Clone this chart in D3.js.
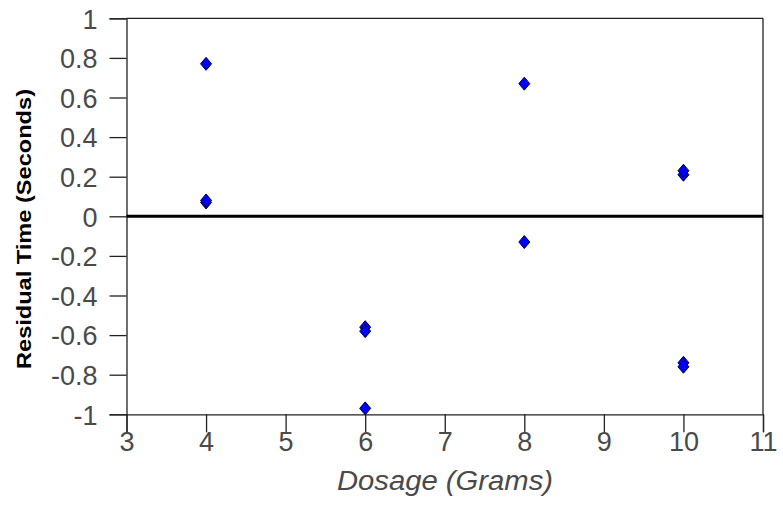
<!DOCTYPE html>
<html>
<head>
<meta charset="utf-8">
<script src="https://cdn.jsdelivr.net/npm/d3@7"></script>
<style>
  html, body { margin: 0; padding: 0; background: #fff; }
  svg { display: block; }
  text { font-family: "Liberation Sans", Arial, sans-serif; }
</style>
</head>
<body>
<svg id="chart" width="783" height="518"></svg>
<script>
const dosage   = [4, 4, 4, 6, 6, 6, 8, 8, 10, 10, 10, 10];
const residual = [0.77, 0.07, 0.08, -0.56, -0.58, -0.97, 0.67, -0.13, 0.21, 0.23, -0.74, -0.76];
const xTicks = [3, 4, 5, 6, 7, 8, 9, 10, 11];
const yTicks = [1, 0.8, 0.6, 0.4, 0.2, 0, -0.2, -0.4, -0.6, -0.8, -1];
const xTitle = "Dosage (Grams)";
const yTitle = "Residual Time (Seconds)";

const svg = d3.select("#chart");
const L = 126.5, R = 763, T = 18.3, B = 414.3;

const x = d3.scaleLinear().domain([3, 11]).range([L, R]);
const y = d3.scaleLinear().domain([-1, 1]).range([B, T]);

const fmt = d => String(+d.toFixed(1));

// y axis
const yAxis = svg.append("g").attr("transform", `translate(${L},0)`)
  .call(d3.axisLeft(y).tickValues(yTicks).tickSize(17).tickPadding(12).tickFormat(fmt));
// x axis
const xAxis = svg.append("g").attr("transform", `translate(0,${B})`)
  .call(d3.axisBottom(x).tickValues(xTicks).tickSize(18).tickPadding(0).tickFormat(fmt));

[yAxis, xAxis].forEach(g => {
  g.select(".domain").attr("stroke", "#222").attr("stroke-width", 1.3);
  g.selectAll(".tick line").attr("stroke", "#222").attr("stroke-width", 1.3);
  g.selectAll(".tick text").attr("fill", "#4a4a4a").attr("font-size", 27)
    .attr("font-family", "'Liberation Sans', Arial, sans-serif");
});
yAxis.selectAll(".tick text").attr("dy", "0.36em");

// top and right frame
svg.append("line").attr("x1", L).attr("x2", R).attr("y1", T).attr("y2", T)
  .attr("stroke", "#222").attr("stroke-width", 1.3);
svg.append("line").attr("x1", R).attr("x2", R).attr("y1", T).attr("y2", B)
  .attr("stroke", "#222").attr("stroke-width", 1.3);

// zero line
svg.append("line").attr("x1", L).attr("x2", R).attr("y1", y(0)).attr("y2", y(0))
  .attr("stroke", "#000").attr("stroke-width", 3);

// points
svg.append("g").selectAll("path").data(dosage.map((d, i) => [d, residual[i]]))
  .join("path")
  .attr("transform", d => `translate(${x(d[0])},${y(d[1])})`)
  .attr("d", "M0,-6.5L5.5,0L0,6.5L-5.5,0Z")
  .attr("fill", "#0000ff")
  .attr("stroke", "#000033")
  .attr("stroke-width", 1);

// titles
svg.append("text").attr("x", 445).attr("y", 490)
  .attr("text-anchor", "middle").attr("font-size", 27).attr("font-style", "italic")
  .attr("fill", "#4a4a4a").attr("textLength", 216).attr("lengthAdjust", "spacingAndGlyphs")
  .text(xTitle);

svg.append("text").attr("transform", "translate(31,229) rotate(-90)")
  .attr("text-anchor", "middle").attr("font-size", 21).attr("font-weight", "bold")
  .attr("fill", "#000").attr("textLength", 280).attr("lengthAdjust", "spacingAndGlyphs")
  .text(yTitle);
</script>
</body>
</html>
